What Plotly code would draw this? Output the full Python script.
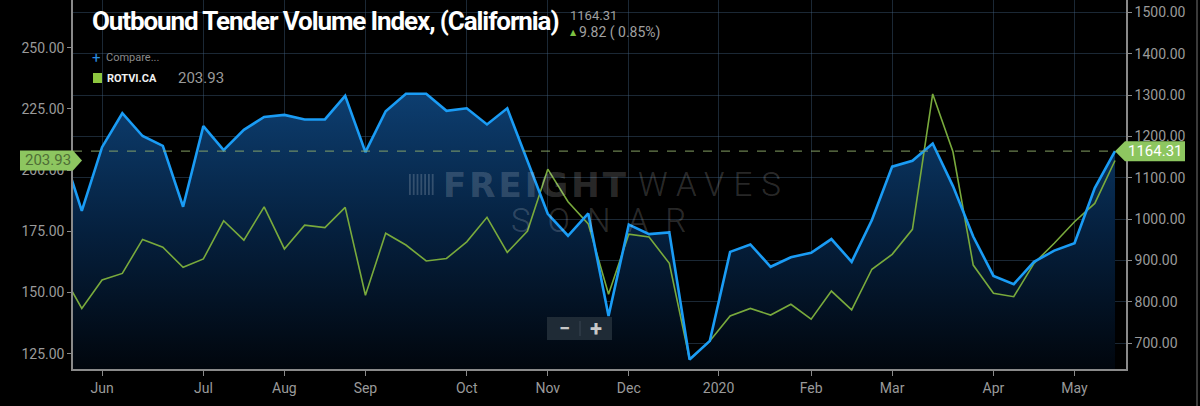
import pandas as pd
import plotly.graph_objects as go

# weekly points (Sundays), first one sits just left of the visible range
dates = [
    "2019-05-19", "2019-05-26", "2019-06-02", "2019-06-09", "2019-06-16", "2019-06-23",
    "2019-06-30", "2019-07-07", "2019-07-14", "2019-07-21", "2019-07-28", "2019-08-04",
    "2019-08-11", "2019-08-18", "2019-08-25", "2019-09-01", "2019-09-08", "2019-09-15",
    "2019-09-22", "2019-09-29", "2019-10-06", "2019-10-13", "2019-10-20", "2019-10-27",
    "2019-11-03", "2019-11-10", "2019-11-17", "2019-11-24", "2019-12-01", "2019-12-08",
    "2019-12-15", "2019-12-22", "2019-12-29", "2020-01-05", "2020-01-12", "2020-01-19",
    "2020-01-26", "2020-02-02", "2020-02-09", "2020-02-16", "2020-02-23", "2020-03-01",
    "2020-03-08", "2020-03-15", "2020-03-22", "2020-03-29", "2020-04-05", "2020-04-12",
    "2020-04-19", "2020-04-26", "2020-05-03", "2020-05-10", "2020-05-17",
]

# OTVI.CA (right axis, blue area)
otvi = [
    1172, 1020, 1174, 1256, 1201, 1177, 1030, 1225, 1167, 1216,
    1247, 1252, 1241, 1241, 1298, 1162, 1261, 1303, 1303, 1262,
    1268, 1229, 1268, 1141, 1013, 960, 1014, 766, 987, 964,
    968, 661, 706, 921, 939, 885, 908, 919, 952, 897,
    998, 1127, 1141, 1183, 1080, 958, 863, 843, 897, 924,
    942, 1075, 1164.31,
]

# ROTVI.CA (left axis, green line)
rotvi = [
    158.1, 143.5, 155.1, 157.8, 171.7, 168.5, 160.3, 163.7, 179.3, 171.4,
    185.0, 167.8, 177.5, 176.5, 184.8, 148.9, 174.2, 169.4, 162.9, 163.9,
    170.7, 180.7, 166.4, 175.1, 200.4, 187.1, 178.0, 149.3, 173.8, 172.7,
    161.9, 122.7, 130.2, 140.4, 143.5, 140.8, 145.2, 139.1, 150.6, 142.9,
    159.5, 165.6, 175.8, 231.1, 207.5, 161.2, 149.7, 148.3, 161.9, 170.1,
    178.9, 186.4, 203.93,
]

tick_dates = [
    "2019-06-02", "2019-07-07", "2019-08-04", "2019-09-01", "2019-10-06", "2019-11-03",
    "2019-12-01", "2020-01-01", "2020-02-02", "2020-03-01", "2020-04-05", "2020-05-03",
]
tick_labels = ["Jun", "Jul", "Aug", "Sep", "Oct", "Nov", "Dec", "2020", "Feb", "Mar", "Apr", "May"]

right_ticks = [700, 800, 900, 1000, 1100, 1200, 1300, 1400, 1500]
left_ticks = [125, 150, 175, 200, 225, 250]

BLUE = "#1a9cf5"
GREEN = "#79aa3c"
TAG = "#8dc660"
GRID = "rgba(70,105,140,0.38)"
AXIS = "#8a8a8a"
TICKFONT = dict(family="Roboto", size=14, color="#9a9a9a")

# plot area in pixels
W, H = 1200, 406
L, R, T, B = 73, 1126, 0, 369
X_RANGE = ["2019-05-22 23:00", "2020-05-20 19:00"]
RIGHT_RANGE = [638, 1529.7]
LEFT_RANGE = [118.75, 269.5]


def px(x):
    return (x - L) / (R - L)


def py(y):
    return (B - y) / (B - T)


def xdate(d):
    x0, x1 = pd.Timestamp(X_RANGE[0]), pd.Timestamp(X_RANGE[1])
    return (pd.Timestamp(d) - x0) / (x1 - x0)


def yval(v, rng):
    return (v - rng[0]) / (rng[1] - rng[0])


def note(x, y, text, font, anchor="center"):
    return dict(x=px(x), y=py(y), xref="paper", yref="paper", xanchor=anchor, yanchor="middle",
                text=text, showarrow=False, font=font)


fig = go.Figure()

fig.add_trace(go.Scatter(
    x=dates, y=otvi, yaxis="y", mode="lines",
    line=dict(width=0, color=BLUE),
    fill="tozeroy",
    fillgradient=dict(
        type="vertical", start=638, stop=1305,
        colorscale=[[0, "rgb(1,6,13)"], [0.5, "rgb(5,32,62)"], [1, "rgb(13,62,112)"]],
    ),
    hoverinfo="skip",
))
fig.add_trace(go.Scatter(
    x=dates, y=rotvi, yaxis="y2", mode="lines",
    line=dict(width=1.6, color=GREEN),
))
fig.add_trace(go.Scatter(
    x=dates, y=otvi, yaxis="y3", mode="lines",
    line=dict(width=2.6, color=BLUE),
))

shapes = []
annotations = []

# dashed last-value line
last_x = xdate(dates[-1])
last_y = yval(otvi[-1], RIGHT_RANGE)
shapes.append(dict(
    type="line", xref="paper", yref="paper", x0=0, x1=last_x, y0=last_y, y1=last_y,
    line=dict(color="rgba(140,170,105,0.75)", width=1.2, dash="dash"),
))

# right value tag (points at last blue value)
tx = L + last_x * (R - L)
ty = B - last_y * (B - T)
shapes.append(dict(
    type="path", xref="paper", yref="paper", fillcolor=TAG, line=dict(width=0),
    path="M {},{} L {},{} L {},{} L {},{} L {},{} Z".format(
        px(tx), py(ty), px(tx + 10), py(ty - 10), px(tx + 70), py(ty - 10),
        px(tx + 70), py(ty + 10), px(tx + 10), py(ty + 10)),
))
annotations.append(note(tx + 40, ty, "{:.2f}".format(otvi[-1]),
                        dict(family="Roboto", size=15, color="#ffffff")))

# left value tag (last green value)
ly = B - yval(rotvi[-1], LEFT_RANGE) * (B - T)
shapes.append(dict(
    type="path", xref="paper", yref="paper", fillcolor=TAG, line=dict(width=0),
    path="M {},{} L {},{} L {},{} L {},{} L {},{} Z".format(
        px(20), py(ly - 10), px(73), py(ly - 10), px(82), py(ly),
        px(73), py(ly + 10), px(20), py(ly + 10)),
))
annotations.append(note(48, ly, "{:.2f}".format(rotvi[-1]),
                        dict(family="Roboto", size=15, color="#4f6e36")))

# title block
annotations += [
    note(90, 21, '<span style="letter-spacing:-1.1px"><b>Outbound Tender Volume Index, (California)</b></span>',
         dict(family="Roboto", size=26, color="#ffffff"), "left"),
    note(568, 15, "{:.2f}".format(otvi[-1]), dict(family="Roboto", size=13, color="#a0a0a0"), "left"),
    note(568, 32, "▲", dict(family="DejaVu Sans", size=8, color="#7cc242"), "left"),
    note(577, 32, "9.82 ( 0.85%)", dict(family="Roboto", size=14, color="#a0a0a0"), "left"),
]

# legend
shapes.append(dict(type="rect", xref="paper", yref="paper", x0=px(93), x1=px(102), y0=py(83), y1=py(73),
                   fillcolor="#8dc63f", line=dict(width=0)))
annotations += [
    note(90, 58, "+", dict(family="Roboto", size=15, color="#2a8de0"), "left"),
    note(104, 58, "Compare...", dict(family="Roboto", size=11, color="#8a8a8a"), "left"),
    note(105, 78, "<b>ROTVI.CA</b>", dict(family="Roboto", size=11, color="#f0f0f0"), "left"),
    note(176, 78, "{:.2f}".format(rotvi[-1]), dict(family="Roboto", size=15, color="#9a9a9a"), "left"),
]

# watermark
WM = "rgba(255,255,255,0.18)"
for i in range(7):
    bx = 409 + i * 3.8
    shapes.append(dict(type="rect", xref="paper", yref="paper", x0=px(bx), x1=px(bx + 1.8),
                       y0=py(195), y1=py(174), fillcolor=WM, line=dict(width=0)))
annotations += [
    note(441, 185, '<span style="letter-spacing:3px"><b>FREIGHT</b></span>',
         dict(family="DejaVu Sans", size=34, color=WM), "left"),
    note(636, 185, '<span style="letter-spacing:9px">WAVES</span>',
         dict(family="Roboto", size=33, color=WM, weight=300), "left"),
    note(509, 220, '<span style="letter-spacing:17px">SONAR</span>',
         dict(family="Roboto", size=33, color=WM, weight=300), "left"),
]

# zoom control
shapes += [
    dict(type="rect", xref="paper", yref="paper", x0=px(547), x1=px(612), y0=py(340), y1=py(317),
         fillcolor="#1f2b36", line=dict(width=0)),
    dict(type="line", xref="paper", yref="paper", x0=px(580), x1=px(580), y0=py(336), y1=py(321),
         line=dict(color="#3a4652", width=1)),
    dict(type="line", xref="paper", yref="paper", x0=px(1197), x1=px(1197), y0=py(0), y1=py(406),
         line=dict(color="#3a3a3a", width=2)),
]
annotations += [
    note(564, 328, "<b>−</b>", dict(family="Roboto", size=20, color="#c8c8c8")),
    note(596, 328, "<b>+</b>", dict(family="Roboto", size=22, color="#c8c8c8")),
]

fig.update_layout(
    width=W, height=H,
    margin=dict(l=L, r=W - R, t=T, b=H - B),
    paper_bgcolor="#000000",
    plot_bgcolor="#000000",
    showlegend=False,
    xaxis=dict(
        type="date", range=X_RANGE, tickvals=tick_dates, ticktext=tick_labels,
        showgrid=True, gridcolor=GRID, gridwidth=1, zeroline=False,
        showline=True, linecolor=AXIS, linewidth=1.5,
        ticks="outside", ticklen=5, tickcolor=AXIS, tickfont=TICKFONT,
    ),
    yaxis=dict(
        side="right", range=RIGHT_RANGE, tickvals=right_ticks, tickformat=".2f",
        showgrid=True, gridcolor=GRID, gridwidth=1, zeroline=False,
        showline=True, linecolor=AXIS, linewidth=1.5,
        ticks="outside", ticklen=4, tickcolor=AXIS, tickfont=TICKFONT,
    ),
    yaxis2=dict(
        overlaying="y", side="left", range=LEFT_RANGE, tickvals=left_ticks, tickformat=".2f",
        showgrid=False, zeroline=False,
        showline=True, linecolor=AXIS, linewidth=1.5,
        ticks="outside", ticklen=4, tickcolor=AXIS, tickfont=TICKFONT,
    ),
    yaxis3=dict(overlaying="y", range=RIGHT_RANGE, visible=False),
    shapes=shapes,
    annotations=annotations,
)

# page has a default 8px body margin; remove it so the figure sits at the window origin
fig.write_html(
    "out.html",
    config={"displayModeBar": False},
    post_script="document.body.style.margin='0';document.body.style.background='#000';",
)
